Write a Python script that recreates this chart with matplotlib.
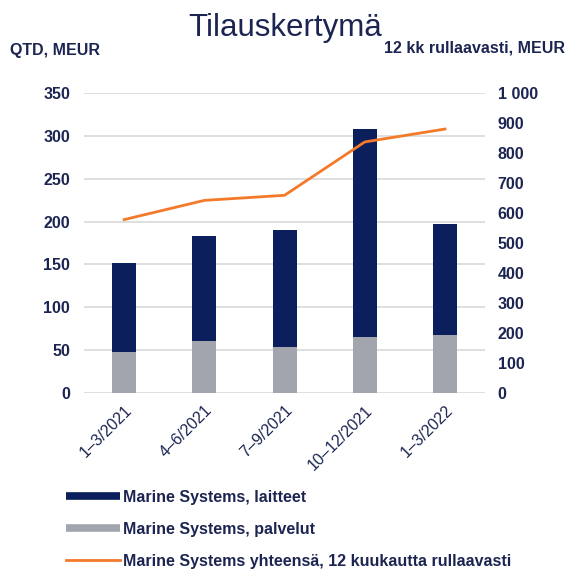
import matplotlib.pyplot as plt
from matplotlib.lines import Line2D
import numpy as np

plt.rcParams['font.family'] = ['Liberation Sans', 'DejaVu Sans']

# data
quarters = ['1–3/2021', '4–6/2021', '7–9/2021', '10–12/2021', '1–3/2022']
services = [48, 61, 54, 65, 67]          # Marine Systems, palvelut
totals = [152, 183, 190, 308, 197]        # bar tops (laitteet + palvelut)
equipment = [t - s for t, s in zip(totals, services)]
rolling12 = [578, 642, 659, 837, 880]     # 12 kk rullaavasti

navy = '#0a1f5c'
gray = '#a2a5ad'
orange = '#f47a2a'
txt = '#1c2552'

fig = plt.figure(figsize=(5.68, 5.71), dpi=100)
ax = fig.add_axes([0.148, 0.312, 0.706, 0.525])
x = np.arange(len(quarters))
w = 0.3
ax.bar(x, services, w, color=gray, zorder=3)
ax.bar(x, equipment, w, bottom=services, color=navy, zorder=3)

ax.set_xlim(-0.5, 4.5)
ax.set_ylim(0, 350)
ax.set_yticks(range(0, 351, 50))
ax.grid(axis='y', color='#d9d9d9', linewidth=1.2, zorder=0)
for s in ax.spines.values():
    s.set_visible(False)
ax.tick_params(length=0)
ax.tick_params(axis='y', pad=10)
ax.tick_params(axis='x', pad=7)
ax.set_xticks(x)
ax.set_xticklabels(quarters, rotation=45, ha='right', rotation_mode='anchor',
                   fontsize=11.5, color=txt)
for lab in ax.get_yticklabels():
    lab.set_fontsize(11.5)
    lab.set_fontweight('bold')
    lab.set_color(txt)

ax2 = ax.twinx()
ax2.plot(x, rolling12, color=orange, linewidth=2, zorder=4)
ax2.set_ylim(0, 1000)
ax2.set_yticks(range(0, 1001, 100))
ax2.set_yticklabels([f'{v:,}'.replace(',', ' ') for v in range(0, 1001, 100)],
                    fontsize=11.5, fontweight='bold', color=txt)
for s in ax2.spines.values():
    s.set_visible(False)
ax2.tick_params(length=0, pad=9)

fig.text(0.502, 0.937, 'Tilauskertymä', ha='center', va='baseline', fontsize=22.5, color=txt)
fig.text(0.018, 0.911, 'QTD, MEUR', ha='left', va='center', fontsize=11.5,
         fontweight='bold', color=txt)
fig.text(0.995, 0.916, '12 kk rullaavasti, MEUR', ha='right', va='center', fontsize=11.5,
         fontweight='bold', color=txt)

handles = [Line2D([], [], color=navy, linewidth=5.5, solid_capstyle='butt'),
           Line2D([], [], color=gray, linewidth=5.5, solid_capstyle='butt'),
           Line2D([], [], color=orange, linewidth=2)]
labels = ['Marine Systems, laitteet', 'Marine Systems, palvelut',
          'Marine Systems yhteensä, 12 kuukautta rullaavasti']
leg = fig.legend(handles, labels, loc='upper left', bbox_to_anchor=(0.105, 0.153),
                 frameon=False, handlelength=3.4, handletextpad=0.15,
                 labelspacing=1.05, borderaxespad=0,
                 prop={'size': 11.5, 'weight': 'bold'})
for t in leg.get_texts():
    t.set_color(txt)

fig.savefig('out.png', dpi=100)
